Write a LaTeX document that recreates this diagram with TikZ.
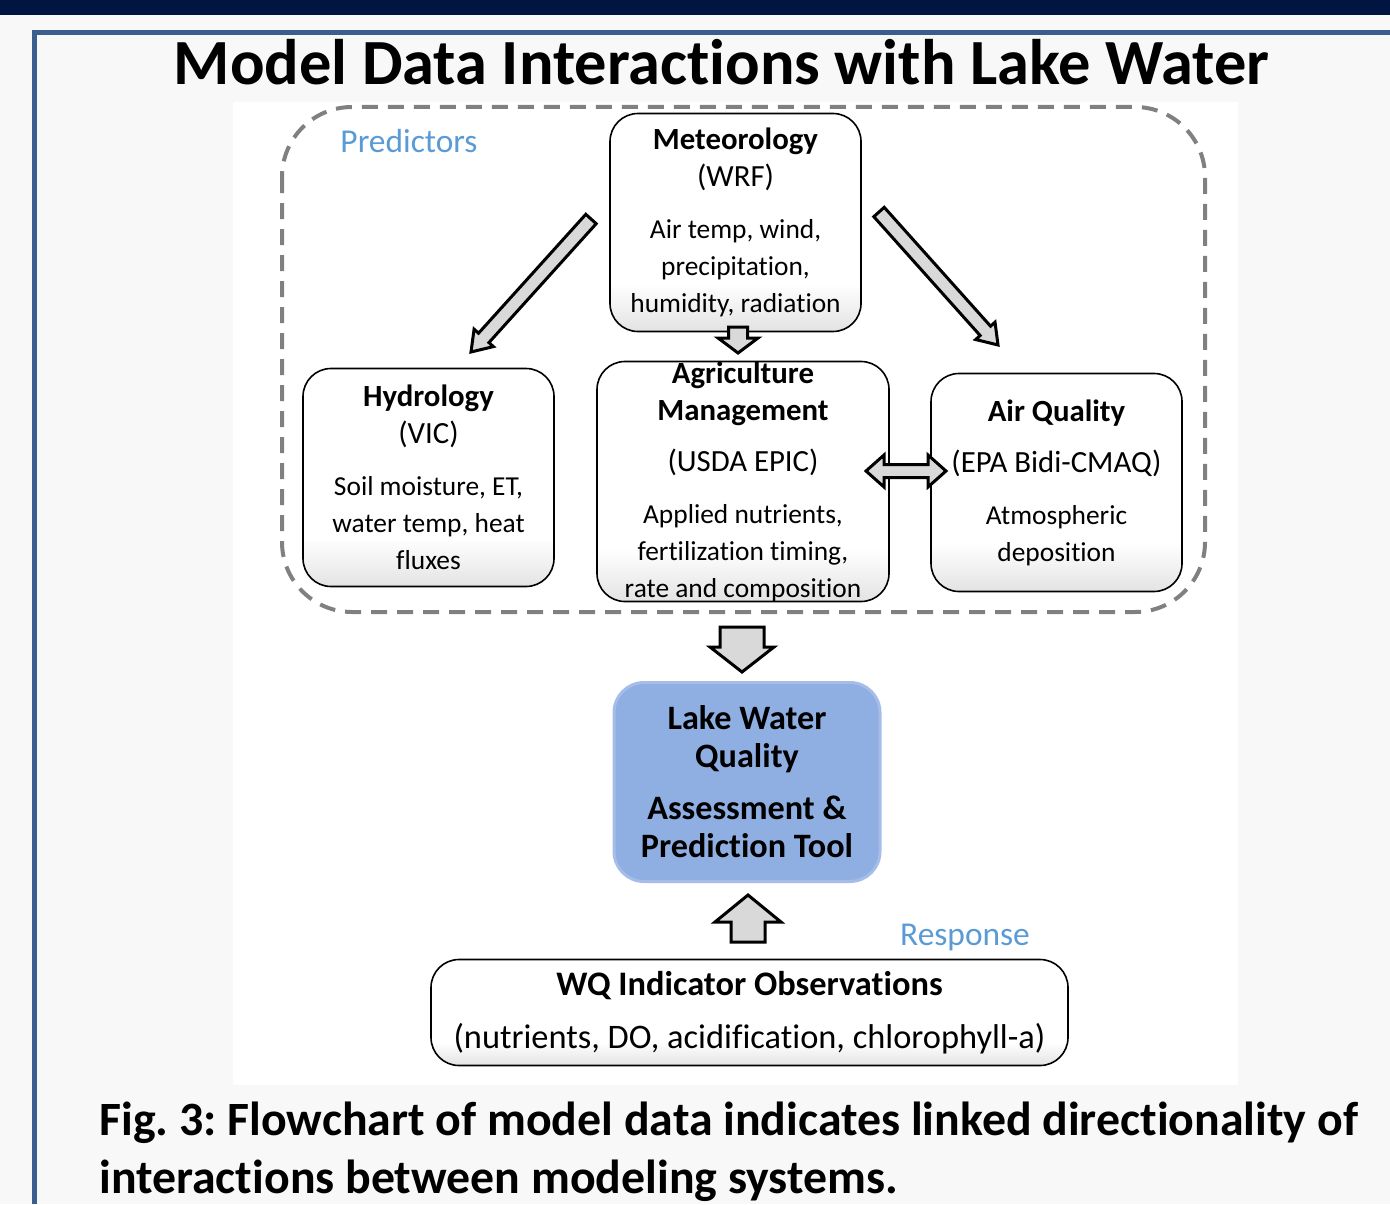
\documentclass[tikz,border=0pt]{standalone}
\usepackage{fontspec}
\setmainfont{Carlito}[Ligatures=NoCommon]
\usetikzlibrary{calc, positioning}
\frenchspacing

\definecolor{navy}{HTML}{001540}
\definecolor{framebl}{HTML}{3A5F8E}
\definecolor{pagegray}{HTML}{F8F8F8}
\definecolor{dashgray}{HTML}{808080}
\definecolor{labelblue}{HTML}{5B9BD5}
\definecolor{arrowgray}{HTML}{D9D9D9}
\definecolor{lakeblue}{HTML}{8FAEE2}
\definecolor{lakeedge}{HTML}{A6BDEA}

\pgfdeclareverticalshading{boxshade}{100bp}{color(0bp)=(black!11); color(25bp)=(black!11); color(36bp)=(white); color(100bp)=(white)}

% heading lines inside the model boxes are set a little larger
\newcommand{\hd}[1]{{\fontsize{15.4}{18.5}\selectfont #1}}

\tikzset{
  model/.style={draw=black, line width=0.8pt, rounded corners=14pt, shading=boxshade,
    align=center, inner sep=0pt, minimum width=125.5pt, minimum height=109pt,
    font=\fontsize{13.7}{18.5}\selectfont},
  lake/.style={draw=lakeedge, line width=1.5pt, fill=lakeblue, rounded corners=15pt,
    align=center, inner sep=0pt, minimum width=133pt, minimum height=99.5pt,
    font=\bfseries\fontsize{17.1}{19}\selectfont},
  predbox/.style={draw=dashgray, line width=2pt, dash pattern=on 8pt off 5pt, rounded corners=35pt},
  blockarrow/.style={draw=black, fill=arrowgray, line width=1.5pt, line join=miter},
  grouplabel/.style={text=labelblue, font=\fontsize{16.7}{20}\selectfont, inner sep=0pt},
}

% block arrow: name, tail, tip, shaft half width, head half width, head length
\newcommand{\blockarrow}[6]{%
  \coordinate (#1-h) at ($(#3)!#6!(#2)$);
  \draw[blockarrow] ($(#2)!#4!90:(#3)$) -- ($(#1-h)!#4!90:(#3)$) -- ($(#1-h)!#5!90:(#3)$) -- (#3)
    -- ($(#1-h)!#5!-90:(#3)$) -- ($(#1-h)!#4!-90:(#3)$) -- ($(#2)!#4!-90:(#3)$) -- cycle;
}
% two-headed block arrow: name, end a, end b, shaft half width, head half width, head length
\newcommand{\dblockarrow}[6]{%
  \coordinate (#1-ha) at ($(#2)!#6!(#3)$);
  \coordinate (#1-hb) at ($(#3)!#6!(#2)$);
  \draw[blockarrow] (#2) -- ($(#1-ha)!#5!90:(#3)$) -- ($(#1-ha)!#4!90:(#3)$) -- ($(#1-hb)!#4!90:(#3)$)
    -- ($(#1-hb)!#5!90:(#3)$) -- (#3) -- ($(#1-hb)!#5!-90:(#3)$) -- ($(#1-hb)!#4!-90:(#3)$)
    -- ($(#1-ha)!#4!-90:(#3)$) -- ($(#1-ha)!#5!-90:(#3)$) -- cycle;
}

\begin{document}
\begin{tikzpicture}[x=0.5pt, y=-0.5pt]
  \useasboundingbox (0,0) rectangle (1390,1204);
  % page background and frame
  \fill[pagegray] (0,0) rectangle (1390,1204);
  \fill[navy] (0,0) rectangle (1390,15);
  \draw[framebl, line width=2.5pt, line join=miter] (34.5,1204) -- (34.5,32.5) -- (1390,32.5);
  \fill[white] (233,102) rectangle (1238,1085);

  \node[anchor=base, font=\bfseries\fontsize{32.2}{40}\selectfont, inner sep=0pt] (title) at (721.5,85)
    {Model Data Interactions with Lake Water};

  % predictor models
  \draw[predbox] (282,107) rectangle (1205,612);
  \node[grouplabel, anchor=base] (predlabel) at (409,152) {Predictors};

  \node[model] (met) at (735.5,222.5)
    {\hd{\textbf{Meteorology}}\\\hd{(WRF)}\\[7.5pt]Air temp, wind,\\precipitation,\\humidity, radiation};
  \node[model] (hydro) at (428.5,477.5)
    {\hd{\textbf{Hydrology}}\\\hd{(VIC)}\\[7.5pt]Soil moisture, ET,\\water temp, heat\\fluxes};
  \node[model, minimum width=146pt, minimum height=120pt] (agri) at (743,481.5)
    {\hd{\textbf{Agriculture}}\\\hd{\textbf{Management}}\\[7pt]\hd{(USDA EPIC)}\\[7.5pt]Applied nutrients,\\fertilization timing,\\rate and composition};
  \node[model] (air) at (1056.5,482.5)
    {\hd{\textbf{Air Quality}}\\[7pt]\hd{(EPA Bidi-CMAQ)}\\[7.5pt]Atmospheric\\deposition};

  % response side
  \node[lake] (lake) at (747,782)
    {Lake Water\\Quality\\[7pt]Assessment \&\\Prediction Tool};
  \node[model, minimum width=318.5pt, minimum height=53pt, font=\fontsize{17.2}{19.5}\selectfont] (obs) at (749.5,1012.5)
    {\textbf{WQ Indicator Observations}\\[7pt](nutrients, DO, acidification, chlorophyll-a)};
  \node[grouplabel, anchor=base] (resplabel) at (965,945) {Response};

  % arrows
  \coordinate (metL-tail) at (591,219);
  \coordinate (metL-tip) at (471,352);
  \coordinate (metR-tail) at (879,212);
  \coordinate (metR-tip) at (998,345);
  \coordinate (metD-tail) at (738,327);
  \coordinate (metD-tip) at (738,353);
  \coordinate (agriAir-a) at (866,471);
  \coordinate (agriAir-b) at (946,471);
  \coordinate (predLake-tail) at (742,627);
  \coordinate (predLake-tip) at (742,672);
  \coordinate (obsLake-tail) at (748,942);
  \coordinate (obsLake-tip) at (748,895);

  \blockarrow{metL}{metL-tail}{metL-tip}{3.5pt}{6.5pt}{9.5pt}
  \blockarrow{metR}{metR-tail}{metR-tip}{3.5pt}{6.5pt}{9.5pt}
  \blockarrow{metD}{metD-tail}{metD-tip}{4.75pt}{10pt}{7.5pt}
  \dblockarrow{agriAir}{agriAir-a}{agriAir-b}{3.25pt}{8pt}{9pt}
  \blockarrow{predLake}{predLake-tail}{predLake-tip}{11pt}{16pt}{12.5pt}
  \blockarrow{obsLake}{obsLake-tail}{obsLake-tip}{8.5pt}{16.5pt}{13.5pt}

  % caption
  \node[anchor=base west, font=\bfseries\fontsize{23.9}{29}\selectfont, inner sep=0pt] (cap1) at (99,1135)
    {Fig. 3: Flowchart of model data indicates linked directionality of};
  \node[anchor=base west, font=\bfseries\fontsize{23.9}{29}\selectfont, inner sep=0pt] (cap2) at (99,1193)
    {interactions between modeling systems.};
\end{tikzpicture}
\end{document}
